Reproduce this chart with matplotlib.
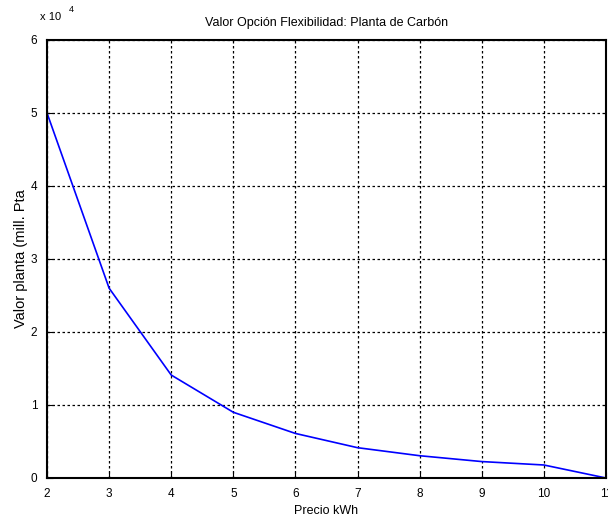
import matplotlib.pyplot as plt
from matplotlib.ticker import FuncFormatter

plt.rcParams['font.family'] = ['Liberation Sans', 'DejaVu Sans']

# precio del kWh y valor de la planta (mill. Pta)
precio = [2, 3, 4, 5, 6, 7, 8, 9, 10, 11]
valor = [50000, 26000, 14100, 9000, 6100, 4150, 3050, 2250, 1780, 0]

fig = plt.figure(figsize=(6.08, 5.24), dpi=100)
ax = fig.add_axes([0.0773, 0.0878, 0.9194, 0.836])

ax.plot(precio, valor, color='#0000ff', linewidth=1.2)

ax.set_xlim(2, 11)
ax.set_ylim(0, 60000)
ax.set_xticks(range(2, 12))
ax.set_yticks(range(0, 60001, 10000))
ax.yaxis.set_major_formatter(FuncFormatter(lambda v, p: '%d' % round(v / 1e4)))
ax.grid(True, color='black', linestyle=(0, (2, 2)), linewidth=0.9)
ax.tick_params(direction='in', length=4, labelsize=8.5, pad=7, color='black')
for s in ax.spines.values():
    s.set_linewidth(1.5)

ax.set_title('Valor Opción Flexibilidad: Planta de Carbón', fontsize=9, pad=10)
ax.set_xlabel('Precio kWh', fontsize=9, labelpad=4)
ax.set_ylabel('Valor planta (mill. Pta', fontsize=10.5, labelpad=2)

fig.text(0.066, 0.962, 'x 10', fontsize=8)
fig.text(0.114, 0.977, '4', fontsize=6.5)

fig.savefig('out.png', dpi=100)
